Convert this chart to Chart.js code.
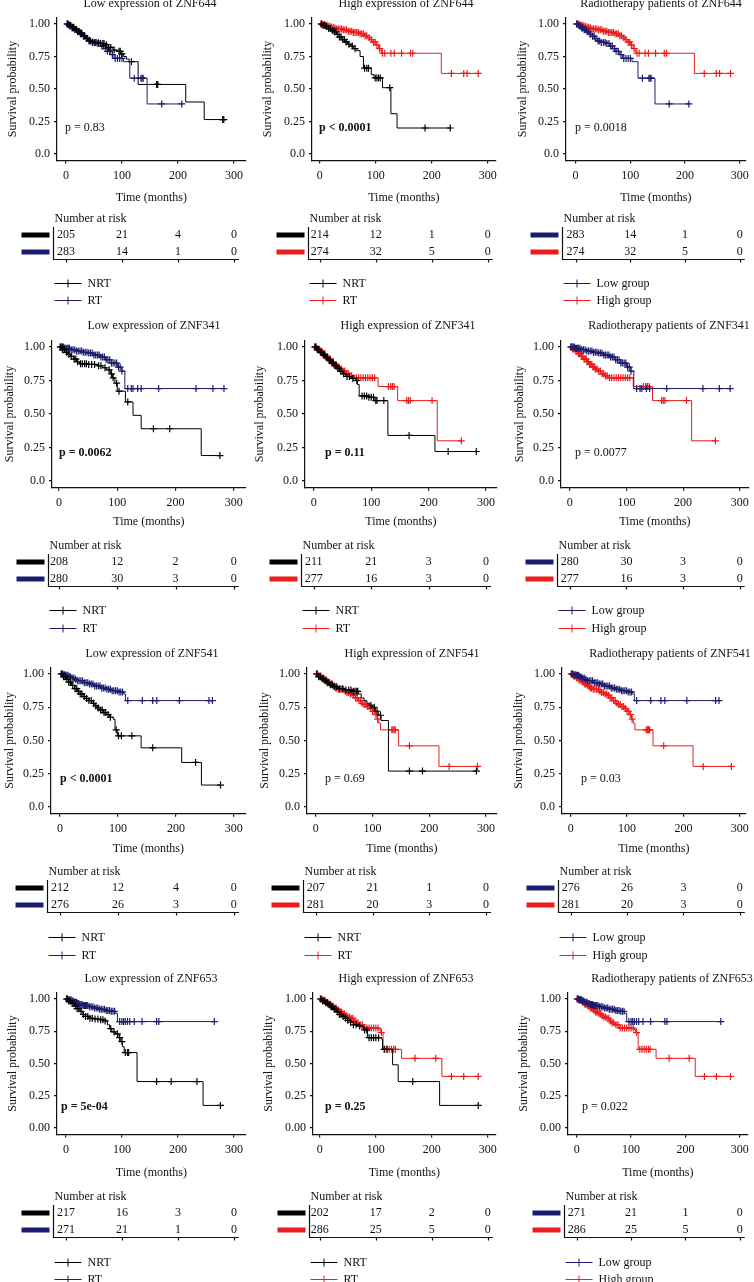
<!DOCTYPE html>
<html><head><meta charset="utf-8">
<script src="https://cdn.jsdelivr.net/npm/chart.js@4.4.1/dist/chart.umd.min.js"></script>
<style>html,body{margin:0;padding:0;background:#fff;}#wrap{position:relative;width:754px;height:1282px;overflow:hidden;background:#fff;}canvas{position:absolute;}</style>
</head><body><div id="wrap"></div>
<script>
// ---------- tick labels ----------
const xTickValues = [0, 100, 200, 300];
const xTickLabels = ['0', '100', '200', '300'];
const yTickValues = [0, 0.25, 0.5, 0.75, 1];
const yTickLabelsA = ['0.0', '0.25', '0.50', '0.75', '1.00'];
const yTickLabelsB = ['0.00', '0.25', '0.50', '0.75', '1.00'];

// ---------- ZNF644 ----------
const s644LowNRT = [[0,1],[5,0.99],[10,0.975],[15,0.96],[20,0.945],[25,0.93],[30,0.91],[35,0.89],[40,0.875],[45,0.862],[52,0.855],[62,0.85],[70,0.84],[76,0.82],[84,0.80],[92,0.79],[98,0.77],[103,0.75],[108,0.73],[113,0.71],[129,0.535],[214,0.40],[247,0.265],[283,0.265]];
const c644LowNRT = [3,6,8,12,14,18,22,26,28,33,38,42,48,52,58,62,66,68,72,76,80,86,95,97,100,117,162,164,280,282];
const s644LowRT = [[0,1],[5,0.985],[10,0.97],[15,0.955],[20,0.94],[25,0.922],[30,0.905],[35,0.888],[40,0.87],[45,0.858],[55,0.85],[62,0.83],[68,0.81],[74,0.79],[80,0.765],[86,0.735],[103,0.71],[114,0.583],[145,0.385],[208,0.385]];
const c644LowRT = [2,4,7,9,11,13,16,19,21,24,27,31,34,37,41,44,47,51,54,57,61,64,67,71,74,78,83,88,92,96,100,122,134,136,138,171,207];
const s644HighNRT = [[0,1],[5,0.99],[10,0.98],[15,0.965],[20,0.95],[25,0.94],[30,0.92],[35,0.90],[40,0.88],[45,0.862],[50,0.845],[55,0.83],[60,0.81],[66,0.795],[72,0.75],[78,0.66],[92,0.61],[97,0.585],[112,0.51],[127,0.31],[138,0.20],[233,0.20]];
const c644HighNRT = [3,6,9,12,16,19,23,26,29,32,35,38,41,44,47,52,58,63,80,84,87,99,102,105,108,125,188,233];
const s644HighRT = [[0,1],[5,0.995],[10,0.99],[15,0.982],[20,0.975],[25,0.97],[30,0.962],[40,0.955],[50,0.945],[60,0.935],[70,0.925],[80,0.91],[85,0.895],[90,0.88],[95,0.86],[100,0.84],[105,0.81],[110,0.775],[217,0.62],[283,0.62]];
const c644HighRT = [2,4,6,8,10,13,15,18,21,24,27,30,33,36,39,42,45,48,51,54,57,60,63,66,69,72,75,78,81,84,88,92,96,99,102,107,112,116,127,133,146,162,166,235,257,263,283];
const risk644LowNRT = [205, 21, 4, 0];
const risk644LowRT = [283, 14, 1, 0];
const risk644HighNRT = [214, 12, 1, 0];
const risk644HighRT = [274, 32, 5, 0];

// ---------- ZNF341 ----------
const s341LowNRT = [[0,1],[5,0.98],[10,0.96],[15,0.945],[20,0.93],[25,0.91],[30,0.89],[35,0.875],[50,0.87],[65,0.86],[75,0.845],[82,0.83],[88,0.80],[92,0.77],[96,0.73],[100,0.67],[114,0.59],[127,0.49],[141,0.39],[244,0.19],[278,0.19]];
const c341LowNRT = [3,6,9,13,17,21,26,29,32,37,40,44,47,51,56,61,68,72,79,86,90,93,99,103,118,162,190,276];
const s341LowRT = [[0,1],[10,0.99],[20,0.98],[30,0.97],[40,0.96],[50,0.955],[60,0.94],[70,0.925],[80,0.905],[90,0.88],[100,0.85],[108,0.82],[113,0.69],[283,0.69]];
const c341LowRT = [2,4,6,8,10,12,14,16,18,21,24,27,30,33,36,39,42,45,48,51,54,57,60,63,66,69,72,75,78,81,84,87,90,93,96,99,102,105,108,118,124,127,135,141,171,235,264,283];
const s341HighNRT = [[0,1],[5,0.98],[10,0.96],[15,0.94],[20,0.92],[25,0.90],[30,0.88],[35,0.86],[40,0.84],[45,0.82],[50,0.80],[55,0.78],[65,0.765],[73,0.75],[76,0.72],[79,0.635],[95,0.625],[105,0.60],[129,0.34],[211,0.22],[283,0.22]];
const c341HighNRT = [2,4,7,9,12,14,17,19,22,24,27,29,32,34,37,39,42,44,47,52,58,62,68,75,84,88,92,96,100,104,108,110,122,166,234,283];
const s341HighRT = [[0,1],[5,0.985],[10,0.97],[15,0.95],[20,0.93],[25,0.91],[30,0.89],[35,0.87],[40,0.85],[45,0.835],[50,0.82],[55,0.80],[62,0.785],[70,0.77],[112,0.705],[146,0.60],[215,0.30],[257,0.30]];
const c341HighRT = [2,3,5,7,9,11,13,15,17,19,21,23,25,27,29,31,33,35,37,39,41,43,45,48,51,54,57,60,63,66,70,74,78,82,86,90,94,98,102,106,130,134,137,140,162,165,168,206,257];
const risk341LowNRT = [208, 12, 2, 0];
const risk341LowRT = [280, 30, 3, 0];
const risk341HighNRT = [211, 21, 3, 0];
const risk341HighRT = [277, 16, 3, 0];

// ---------- ZNF541 ----------
const s541LowNRT = [[0,1],[5,0.98],[10,0.96],[15,0.94],[20,0.915],[25,0.89],[30,0.87],[35,0.85],[40,0.83],[45,0.815],[50,0.80],[55,0.78],[60,0.76],[65,0.745],[70,0.73],[75,0.71],[80,0.695],[85,0.675],[92,0.66],[95,0.58],[99,0.535],[140,0.445],[210,0.335],[244,0.165],[277,0.165]];
const c541LowNRT = [3,6,9,12,15,18,22,26,29,32,35,38,42,46,50,54,58,62,66,70,73,76,79,83,87,97,101,106,124,160,234,277];
const s541LowRT = [[0,1],[5,0.995],[10,0.99],[15,0.98],[20,0.97],[25,0.96],[30,0.95],[40,0.935],[50,0.925],[60,0.91],[70,0.895],[80,0.885],[90,0.875],[100,0.865],[110,0.85],[113,0.80],[263,0.80]];
const c541LowRT = [2,4,6,8,10,12,14,16,18,21,24,27,30,33,36,39,42,45,48,51,54,57,60,63,66,69,72,75,78,81,84,87,90,93,96,99,102,105,108,117,142,160,167,206,257,263];
const s541HighNRT = [[0,1],[5,0.98],[10,0.965],[15,0.95],[20,0.935],[25,0.92],[30,0.905],[40,0.89],[50,0.88],[65,0.87],[75,0.85],[80,0.82],[85,0.80],[90,0.78],[95,0.765],[100,0.75],[105,0.72],[110,0.69],[115,0.65],[128,0.27],[283,0.27]];
const c541HighNRT = [2,5,8,11,14,17,20,23,26,29,33,37,42,47,53,58,62,66,69,72,74,97,103,108,114,165,188,283];
const s541HighRT = [[0,1],[5,0.985],[10,0.97],[15,0.955],[20,0.94],[25,0.925],[30,0.91],[35,0.895],[40,0.885],[50,0.87],[55,0.86],[60,0.85],[65,0.84],[70,0.82],[75,0.80],[80,0.78],[85,0.77],[90,0.755],[95,0.74],[100,0.72],[105,0.695],[108,0.66],[111,0.63],[114,0.58],[146,0.46],[217,0.305],[285,0.305]];
const c541HighRT = [1,3,5,7,9,11,13,15,17,19,21,23,25,27,29,31,33,35,37,40,43,46,49,52,55,58,61,64,67,70,73,76,79,82,85,88,91,94,97,100,103,106,109,134,136,138,140,165,235,285];
const risk541LowNRT = [212, 12, 4, 0];
const risk541LowRT = [276, 26, 3, 0];
const risk541HighNRT = [207, 21, 1, 0];
const risk541HighRT = [281, 20, 3, 0];

// ---------- ZNF653 ----------
const s653LowNRT = [[0,1],[5,0.985],[10,0.965],[15,0.945],[20,0.925],[25,0.905],[30,0.88],[35,0.865],[40,0.85],[50,0.845],[60,0.84],[70,0.83],[74,0.80],[78,0.77],[82,0.745],[88,0.73],[95,0.70],[98,0.67],[101,0.63],[104,0.585],[127,0.36],[245,0.175],[276,0.175]];
const c653LowNRT = [2,5,8,11,14,17,20,23,27,31,35,39,43,47,52,57,62,66,70,80,86,92,96,100,106,110,112,162,188,234,276];
const s653LowRT = [[0,1],[5,0.995],[10,0.985],[15,0.975],[20,0.965],[25,0.958],[30,0.95],[40,0.94],[50,0.93],[60,0.92],[70,0.91],[80,0.905],[88,0.89],[92,0.825],[265,0.825]];
const c653LowRT = [1,3,5,7,9,11,13,15,17,19,21,23,25,27,29,31,33,35,37,39,42,45,48,51,54,57,60,63,66,69,72,75,78,81,84,87,96,100,103,106,110,114,122,136,162,166,265];
const s653HighNRT = [[0,1],[5,0.985],[10,0.97],[15,0.955],[20,0.94],[25,0.92],[30,0.90],[35,0.88],[40,0.865],[45,0.85],[50,0.835],[55,0.82],[60,0.80],[70,0.79],[78,0.76],[85,0.70],[110,0.69],[112,0.61],[130,0.49],[140,0.36],[214,0.175],[283,0.175]];
const c653HighNRT = [2,5,8,11,14,17,20,23,26,29,32,35,38,42,46,50,55,60,65,71,80,84,88,92,96,100,105,115,120,166,283];
const s653HighRT = [[0,1],[5,0.99],[10,0.975],[15,0.96],[20,0.945],[25,0.93],[30,0.915],[35,0.90],[40,0.885],[45,0.87],[50,0.86],[55,0.85],[60,0.83],[65,0.815],[70,0.80],[78,0.775],[105,0.765],[108,0.74],[113,0.61],[146,0.54],[218,0.40],[283,0.40]];
const c653HighRT = [1,3,5,7,9,11,13,15,17,19,21,23,25,27,29,31,33,35,37,39,41,44,47,50,53,56,59,62,65,68,72,76,80,84,88,92,96,100,104,110,116,120,124,128,132,135,170,207,235,257,283];
const risk653LowNRT = [217, 16, 3, 0];
const risk653LowRT = [271, 21, 1, 0];
const risk653HighNRT = [202, 17, 2, 0];
const risk653HighRT = [286, 25, 5, 0];

// ---------- texts ----------
const panelTitles = [
  'Low expression of ZNF644', 'High expression of ZNF644', 'Radiotherapy patients of ZNF644',
  'Low expression of ZNF341', 'High expression of ZNF341', 'Radiotherapy patients of ZNF341',
  'Low expression of ZNF541', 'High expression of ZNF541', 'Radiotherapy patients of ZNF541',
  'Low expression of ZNF653', 'High expression of ZNF653', 'Radiotherapy patients of ZNF653'];
const pValues = ['p = 0.83', 'p < 0.0001', 'p = 0.0018', 'p = 0.0062', 'p = 0.11', 'p = 0.0077',
  'p < 0.0001', 'p = 0.69', 'p = 0.03', 'p = 5e-04', 'p = 0.25', 'p = 0.022'];
const pBold = [false, true, false, true, true, false, true, false, false, true, true, false];
const legendTreat = ['NRT', 'RT'];
const legendGroup = ['Low group', 'High group'];

// ---------- styling / layout ----------
const BLACK = '#000000', NAVY = '#1c1c6e', RED = '#ec1c1c';
const FAM = "'Liberation Serif', 'Times New Roman', serif";
const FONT = '12px ' + FAM, BOLD = 'bold 12px ' + FAM;
const cellLeft = [0, 251, 502], cellW = [251, 251, 252];
const rows = [
  {top: 0, h: 322, y1: 24, y0: 154, titleBase: 7, timeBase: 201, pBase: 131, nar: 222, r1: 235, r2: 252, tb: 259, l1: 283, l2: 300, yl: yTickLabelsA},
  {top: 320, h: 322, y1: 347, y0: 481, titleBase: 329, timeBase: 525, pBase: 456, nar: 549, r1: 562, r2: 579, tb: 586, l1: 610, l2: 628, yl: yTickLabelsA},
  {top: 640, h: 322, y1: 674, y0: 807, titleBase: 657, timeBase: 852, pBase: 782, nar: 875, r1: 888, r2: 905, tb: 912, l1: 937, l2: 955, yl: yTickLabelsA},
  {top: 958, h: 324, y1: 999, y0: 1128, titleBase: 982, timeBase: 1176, pBase: 1110, nar: 1200, r1: 1213, r2: 1230, tb: 1237, l1: 1262, l2: 1279, yl: yTickLabelsB}];
const cols = [
  [{axisX: 57, x0: 66, x300: 235, titleX: 150, yTitleX: 13, pX: 65}, {axisX: 312, x0: 320, x300: 493, titleX: 406, yTitleX: 268, pX: 319}, {axisX: 566, x0: 576, x300: 747, titleX: 661, yTitleX: 523, pX: 575}],
  [{axisX: 52, x0: 59, x300: 235, titleX: 154, yTitleX: 10, pX: 59}, {axisX: 305, x0: 314, x300: 490, titleX: 408, yTitleX: 260, pX: 325}, {axisX: 561, x0: 570, x300: 744, titleX: 669, yTitleX: 520, pX: 575}],
  [{axisX: 51, x0: 60, x300: 235, titleX: 152, yTitleX: 10, pX: 60}, {axisX: 307, x0: 316, x300: 490, titleX: 412, yTitleX: 265, pX: 325}, {axisX: 562, x0: 571, x300: 747, titleX: 670, yTitleX: 519, pX: 581}],
  [{axisX: 57, x0: 66, x300: 235, titleX: 151, yTitleX: 13, pX: 61}, {axisX: 313, x0: 320, x300: 493, titleX: 406, yTitleX: 269, pX: 325}, {axisX: 568, x0: 577, x300: 745, titleX: 672, yTitleX: 524, pX: 582}]];

const geneData = [
  [s644LowNRT, c644LowNRT, s644LowRT, c644LowRT, s644HighNRT, c644HighNRT, s644HighRT, c644HighRT, risk644LowNRT, risk644LowRT, risk644HighNRT, risk644HighRT],
  [s341LowNRT, c341LowNRT, s341LowRT, c341LowRT, s341HighNRT, c341HighNRT, s341HighRT, c341HighRT, risk341LowNRT, risk341LowRT, risk341HighNRT, risk341HighRT],
  [s541LowNRT, c541LowNRT, s541LowRT, c541LowRT, s541HighNRT, c541HighNRT, s541HighRT, c541HighRT, risk541LowNRT, risk541LowRT, risk541HighNRT, risk541HighRT],
  [s653LowNRT, c653LowNRT, s653LowRT, c653LowRT, s653HighNRT, c653HighNRT, s653HighRT, c653HighRT, risk653LowNRT, risk653LowRT, risk653HighNRT, risk653HighRT]];

// survival level of a step curve at a censoring time (curve lookup)
function levelAt(steps, t) { let s = steps[0][1]; for (const p of steps) { if (p[0] <= t) s = p[1]; else break; } return s; }

const kmText = {
  id: 'kmText',
  afterDraw(chart, args, o) {
    const ctx = chart.ctx, ca = chart.chartArea, xs = chart.scales.x;
    const ox = o.cellLeft, oy = o.R.top, R = o.R, C = o.C;
    ctx.save();
    ctx.fillStyle = '#111'; ctx.strokeStyle = '#111';
    ctx.font = FONT; ctx.textAlign = 'center'; ctx.textBaseline = 'alphabetic';
    ctx.fillText(o.title, C.titleX - ox, R.titleBase - oy);
    ctx.fillText('Time (months)', (ca.left + ca.right) / 2, R.timeBase - oy);
    ctx.save(); ctx.translate(C.yTitleX - ox, (ca.top + ca.bottom) / 2); ctx.rotate(-Math.PI / 2);
    ctx.textBaseline = 'middle'; ctx.fillText('Survival probability', 0, 0); ctx.restore();
    ctx.textAlign = 'left'; ctx.font = o.pBold ? BOLD : FONT;
    ctx.fillText(o.p, C.pX - ox, R.pBase - oy);
    // risk table
    ctx.font = FONT;
    const tx = Math.round(ca.left) - 3.5;
    ctx.fillText('Number at risk', tx + 1, R.nar - oy);
    const rowY = [R.r1 - oy, R.r2 - oy];
    ctx.textAlign = 'center'; ctx.textBaseline = 'middle';
    for (let i = 0; i < 2; i++) {
      ctx.fillStyle = o.colors[i];
      ctx.fillRect(tx - 32, rowY[i] - 2.5, 28, 5);
      ctx.fillStyle = '#111';
      o.risk[i].forEach((v, j) => ctx.fillText(String(v), xs.getPixelForValue(xTickValues[j]), rowY[i]));
    }
    const tb = R.tb - oy + 0.5;
    ctx.lineWidth = 1.2; ctx.strokeStyle = '#111';
    ctx.beginPath(); ctx.moveTo(tx, rowY[0] - 8); ctx.lineTo(tx, tb); ctx.lineTo(xs.getPixelForValue(300) + 5, tb); ctx.stroke();
    xTickValues.forEach(v => { const px = Math.round(xs.getPixelForValue(v)) + 0.5; ctx.beginPath(); ctx.moveTo(px, tb); ctx.lineTo(px, tb + 3); ctx.stroke(); });
    // legend
    const ly = [R.l1 - oy, R.l2 - oy];
    ctx.textAlign = 'left';
    for (let i = 0; i < 2; i++) {
      ctx.strokeStyle = o.colors[i]; ctx.lineWidth = 1;
      ctx.beginPath(); ctx.moveTo(tx + 1, ly[i] + 0.5); ctx.lineTo(tx + 28, ly[i] + 0.5);
      ctx.moveTo(tx + 14.5, ly[i] - 3.5); ctx.lineTo(tx + 14.5, ly[i] + 4.5); ctx.stroke();
      ctx.fillStyle = '#111'; ctx.fillText(o.legend[i], tx + 34, ly[i] + 1);
    }
    ctx.restore();
  }
};

const YW = 45, XH = 22;
const wrap = document.getElementById('wrap');
for (let r = 0; r < 4; r++) {
  const R = rows[r], G = geneData[r];
  const panelCurves = [
    {curves: [[G[0], G[1], BLACK], [G[2], G[3], NAVY]], risk: [G[8], G[9]], legend: legendTreat},
    {curves: [[G[4], G[5], BLACK], [G[6], G[7], RED]], risk: [G[10], G[11]], legend: legendTreat},
    {curves: [[G[2], G[3], NAVY], [G[6], G[7], RED]], risk: [G[9], G[11]], legend: legendGroup}];
  for (let c = 0; c < 3; c++) {
    const C = cols[r][c], P = panelCurves[c], idx = r * 3 + c;
    const canvas = document.createElement('canvas');
    canvas.width = cellW[c]; canvas.height = R.h;
    canvas.style.left = cellLeft[c] + 'px'; canvas.style.top = R.top + 'px';
    canvas.style.width = cellW[c] + 'px'; canvas.style.height = R.h + 'px';
    wrap.appendChild(canvas);
    const ppm = (C.x300 - C.x0) / 300;
    const chartRight = Math.min(C.x300 + 12, cellLeft[c] + cellW[c] - 1);
    const xmin = (C.axisX - C.x0) / ppm, xmax = 300 + (chartRight - C.x300) / ppm;
    const unit = R.y0 - R.y1;
    const topPx = R.y1 - 0.05 * unit, botPx = R.y0 + 0.05 * unit;
    const datasets = [];
    P.curves.forEach(([steps, cens, col]) => {
      datasets.push({type: 'line', data: steps.map(p => ({x: p[0], y: p[1]})), stepped: true, borderColor: col, borderWidth: 1, pointRadius: 0, fill: false});
      datasets.push({type: 'scatter', data: cens.map(t => ({x: t, y: levelAt(steps, t)})), pointStyle: 'cross', pointRadius: 3.5, borderColor: col, backgroundColor: col, borderWidth: 1.2, showLine: false});
    });
    const tickFont = {family: FAM, size: 12};
    new Chart(canvas.getContext('2d'), {
      type: 'scatter',
      data: {datasets},
      options: {
        responsive: false, animation: false, devicePixelRatio: 1,
        events: [],
        layout: {padding: {left: C.axisX - cellLeft[c] - YW, top: topPx - R.top, right: cellLeft[c] + cellW[c] - chartRight, bottom: R.top + R.h - botPx - XH}},
        plugins: {legend: {display: false}, tooltip: {enabled: false}, title: {display: false},
          kmText: {title: panelTitles[idx], p: pValues[idx], pBold: pBold[idx], R, C, cellLeft: cellLeft[c], colors: P.curves.map(k => k[2]), risk: P.risk, legend: P.legend}},
        scales: {
          x: {type: 'linear', min: xmin, max: xmax,
            afterBuildTicks: s => { s.ticks = xTickValues.map(v => ({value: v})); },
            afterFit: s => { s.height = XH; },
            grid: {display: true, drawOnChartArea: false, drawTicks: true, tickLength: 3, color: '#111', lineWidth: 1.2},
            border: {display: true, color: '#111', width: 1.2},
            ticks: {color: '#111', font: tickFont, padding: 5, maxRotation: 0, autoSkip: false, callback: v => xTickLabels[xTickValues.indexOf(v)]}},
          y: {type: 'linear', min: -0.05, max: 1.05,
            afterBuildTicks: s => { s.ticks = yTickValues.map(v => ({value: v})); },
            afterFit: s => { s.width = YW; },
            grid: {display: true, drawOnChartArea: false, drawTicks: true, tickLength: 3, color: '#111', lineWidth: 1.2},
            border: {display: true, color: '#111', width: 1.2},
            ticks: {color: '#111', font: tickFont, padding: 4, autoSkip: false, callback: v => R.yl[yTickValues.indexOf(v)]}}
        }
      },
      plugins: [kmText]
    });
  }
}
</script></body></html>
